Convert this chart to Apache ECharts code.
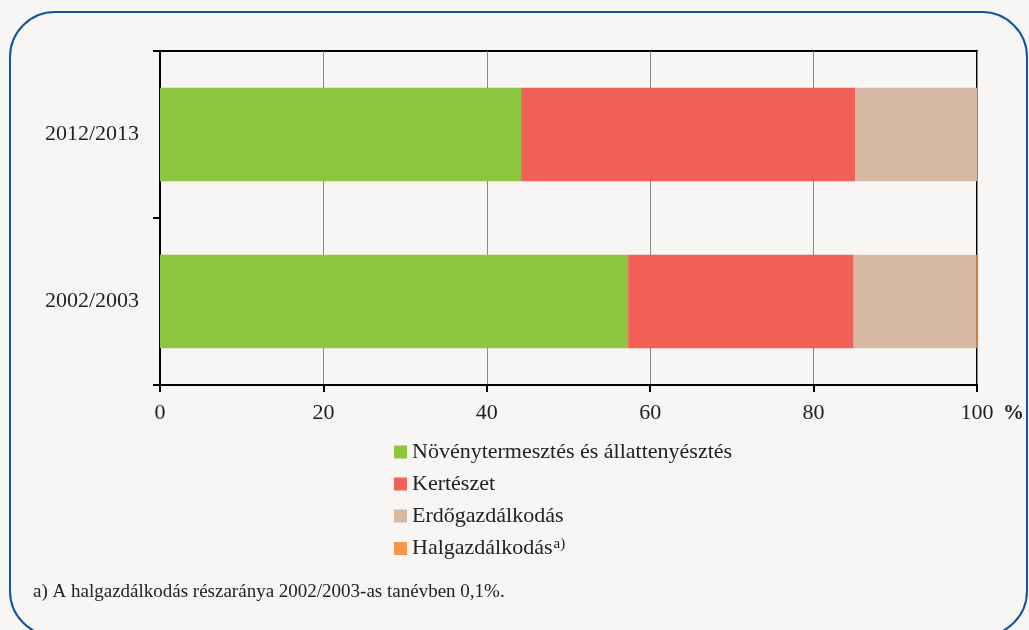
<!DOCTYPE html>
<html>
<head>
<meta charset="utf-8">
<script src="https://cdn.jsdelivr.net/npm/echarts@6/dist/echarts.min.js"></script>
<style>
html,body{margin:0;padding:0;background:#F7F6F4;}
#c{width:1029px;height:630px;}
</style>
</head>
<body>
<div id="c"></div>
<script>
const categories = ['2002/2003', '2012/2013'];
const seriesNames = ['Növénytermesztés és állattenyésztés', 'Kertészet', 'Erdőgazdálkodás', 'Halgazdálkodás'];
const novenyValues = [57.3, 44.2];
const kerteszetValues = [27.6, 40.9];
const erdoValues = [15.0, 14.9];
const halValues = [0.1, 0];
const xTicks = [0, 20, 40, 60, 80, 100];
const colors = ['#8DC63F', '#F26157', '#D6B8A3', '#F7964A'];
const footnote = 'a) A halgazdálkodás részaránya 2002/2003-as tanévben 0,1%.';

const FONT = 'Liberation Serif';
const chart = echarts.init(document.getElementById('c'));
const dataSets = [novenyValues, kerteszetValues, erdoValues, halValues];

chart.setOption({
  backgroundColor: '#F7F6F4',
  animation: false,
  textStyle: { fontFamily: FONT, color: '#222' },
  grid: { left: 160, right: 52, top: 51, bottom: 245, show: true, borderColor: '#000', borderWidth: 2, backgroundColor: 'transparent' },
  xAxis: {
    type: 'value', min: xTicks[0], max: xTicks[xTicks.length - 1], interval: 20,
    axisLine: { show: true, lineStyle: { color: '#000', width: 2 } },
    axisTick: { show: true, length: 7, lineStyle: { color: '#000', width: 2 } },
    splitLine: { show: true, lineStyle: { color: '#8a8a8a', width: 1 } },
    axisLabel: { fontFamily: FONT, fontSize: 22, color: '#222', margin: 17 },
    name: '%', nameLocation: 'end', nameGap: 26,
    nameTextStyle: { fontFamily: FONT, fontSize: 21, fontWeight: 'bold', color: '#222', verticalAlign: 'top', padding: [18, 0, 0, 0] }
  },
  yAxis: {
    type: 'category', data: categories,
    axisLine: { show: true, lineStyle: { color: '#000', width: 2 } },
    axisTick: { show: true, length: 7, lineStyle: { color: '#000', width: 2 } },
    splitLine: { show: false },
    axisLabel: { fontFamily: FONT, fontSize: 22, color: '#222', margin: 21 }
  },
  legend: {
    orient: 'vertical', left: 394, top: 441, padding: 0,
    itemWidth: 13, itemHeight: 13, itemGap: 10, icon: 'rect',
    data: seriesNames,
    textStyle: {
      fontFamily: FONT, fontSize: 22, color: '#222', lineHeight: 22,
      rich: {
        n: { fontFamily: FONT, fontSize: 22, color: '#222', lineHeight: 22 },
        s: { fontFamily: FONT, fontSize: 15, color: '#222', lineHeight: 22, padding: [0, 0, 8, 1] }
      }
    },
    formatter: function (name) {
      return name === 'Halgazdálkodás' ? '{n|' + name + '}{s|a)}' : name;
    }
  },
  graphic: [
    { type: 'rect', shape: { x: 10, y: 12, width: 1017, height: 624, r: 45 }, style: { fill: 'none', stroke: '#14569A', lineWidth: 2 }, silent: true },
    { type: 'text', left: 33, top: 583, style: { text: footnote, fontFamily: FONT, fontSize: 19, fill: '#222' } }
  ],
  series: seriesNames.map(function (n, i) {
    return {
      name: n, type: 'bar', stack: 'total', data: dataSets[i],
      barCategoryGap: '44%',
      itemStyle: { color: colors[i] }
    };
  })
});
</script>
</body>
</html>
